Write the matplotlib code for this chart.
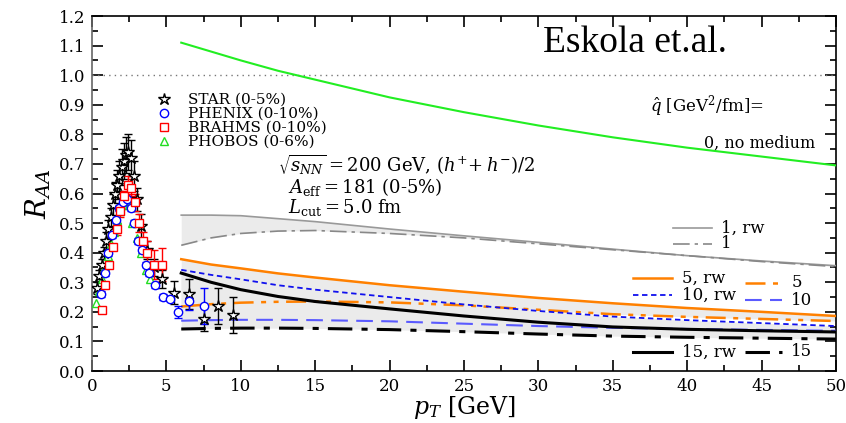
import numpy as np
import matplotlib
matplotlib.use('Agg')
import matplotlib.pyplot as plt
from matplotlib.lines import Line2D

plt.rcParams['font.family'] = ['DejaVu Serif']
plt.rcParams['mathtext.fontset'] = 'dejavuserif'

# --- data points (RHIC, Au+Au 200 GeV) ---
pt_star = [0.35, 0.5, 0.65, 0.8, 0.95, 1.1, 1.25, 1.4, 1.55, 1.7, 1.85, 2.0, 2.15, 2.3, 2.45, 2.6,
           2.8, 3.0, 3.3, 3.7, 4.2, 4.7, 5.5, 6.5, 7.5, 8.5, 9.5]
r_star = [0.28, 0.32, 0.36, 0.40, 0.44, 0.48, 0.52, 0.56, 0.60, 0.63, 0.66, 0.69, 0.71, 0.73, 0.74, 0.72,
          0.66, 0.58, 0.49, 0.41, 0.35, 0.31, 0.265, 0.26, 0.175, 0.22, 0.19]
e_star = [0.02, 0.02, 0.02, 0.02, 0.03, 0.03, 0.03, 0.04, 0.04, 0.05, 0.05, 0.06, 0.06, 0.06, 0.06, 0.06,
          0.05, 0.04, 0.04, 0.03, 0.03, 0.03, 0.04, 0.05, 0.04, 0.06, 0.06]

pt_phenix = [0.6, 0.85, 1.1, 1.35, 1.6, 1.85, 2.1, 2.35, 2.6, 2.85, 3.1, 3.35, 3.6, 3.85, 4.25, 4.75,
             5.25, 5.75, 6.5, 7.5]
r_phenix = [0.26, 0.33, 0.40, 0.46, 0.51, 0.55, 0.57, 0.58, 0.55, 0.50, 0.44, 0.41, 0.36, 0.33, 0.29, 0.25,
            0.245, 0.20, 0.235, 0.22]
e_phenix = [0.01, 0.01, 0.01, 0.01, 0.01, 0.01, 0.01, 0.01, 0.01, 0.01, 0.01, 0.01, 0.01, 0.01, 0.01, 0.01,
            0.01, 0.02, 0.03, 0.06]

pt_brahms = [0.65, 0.9, 1.15, 1.4, 1.65, 1.9, 2.15, 2.4, 2.65, 2.9, 3.15, 3.4, 3.7, 4.2, 4.7]
r_brahms = [0.205, 0.29, 0.36, 0.42, 0.48, 0.54, 0.59, 0.63, 0.62, 0.57, 0.50, 0.44, 0.40, 0.36, 0.36]
e_brahms = [0.01, 0.01, 0.01, 0.01, 0.02, 0.02, 0.02, 0.03, 0.03, 0.03, 0.03, 0.03, 0.04, 0.05, 0.055]

pt_phobos = [0.3, 0.5, 0.7, 0.9, 1.1, 1.3, 1.5, 1.7, 1.9, 2.1, 2.3, 2.5, 2.7, 3.0, 3.3, 3.6, 3.9]
r_phobos = [0.23, 0.27, 0.31, 0.35, 0.39, 0.43, 0.47, 0.51, 0.54, 0.56, 0.57, 0.56, 0.50, 0.45, 0.40, 0.34, 0.31]

# --- model curves ---
pt_curve = [6, 8, 10, 12.5, 15, 20, 25, 30, 35, 40, 45, 50]
q0 = [1.11, 1.08, 1.05, 1.015, 0.985, 0.925, 0.875, 0.83, 0.79, 0.755, 0.725, 0.695]
q1_rw = [0.527, 0.527, 0.525, 0.515, 0.505, 0.48, 0.457, 0.435, 0.412, 0.39, 0.372, 0.356]
q1 = [0.425, 0.45, 0.465, 0.473, 0.475, 0.465, 0.45, 0.43, 0.41, 0.39, 0.37, 0.353]
q5_rw = [0.378, 0.36, 0.347, 0.33, 0.316, 0.29, 0.268, 0.247, 0.229, 0.213, 0.2, 0.186]
q5 = [0.218, 0.226, 0.231, 0.234, 0.235, 0.232, 0.222, 0.207, 0.192, 0.183, 0.176, 0.169]
q10_rw = [0.342, 0.325, 0.31, 0.29, 0.275, 0.25, 0.225, 0.203, 0.184, 0.172, 0.162, 0.152]
q10 = [0.17, 0.172, 0.173, 0.173, 0.172, 0.168, 0.16, 0.152, 0.146, 0.142, 0.139, 0.136]
q15_rw = [0.331, 0.3, 0.275, 0.252, 0.235, 0.21, 0.186, 0.165, 0.149, 0.141, 0.136, 0.132]
q15 = [0.142, 0.144, 0.145, 0.145, 0.144, 0.14, 0.133, 0.125, 0.118, 0.114, 0.111, 0.108]

orange = '#ff8000'
fig = plt.figure(figsize=(8.46, 4.23), dpi=100)
ax = fig.add_axes([0.1087, 0.1229, 0.8794, 0.8392])

for a, b in [(q1_rw, q1), (q5_rw, q5), (q10_rw, q10), (q15_rw, q15)]:
    ax.fill_between(pt_curve, a, b, color='#ebebeb', lw=0, zorder=1)

ax.axhline(1.0, color='#777777', ls=(0, (1, 3)), lw=1, zorder=2)

ax.plot(pt_curve, q0, color='#22ee22', lw=1.5, zorder=3)
ax.plot(pt_curve, q1_rw, color='#999999', lw=1.2, zorder=3)
ax.plot(pt_curve, q1, color='#888888', lw=1.2, ls=(0, (10, 3, 2, 3)), zorder=3)
ax.plot(pt_curve, q5_rw, color=orange, lw=1.8, zorder=3)
ax.plot(pt_curve, q5, color=orange, lw=1.8, ls=(0, (8, 3, 2, 3, 2, 3)), zorder=3)
ax.plot(pt_curve, q10_rw, color='#1010ee', lw=1.3, ls=(0, (3, 2)), zorder=3)
ax.plot(pt_curve, q10, color='#5a5aff', lw=1.5, ls=(0, (8, 4)), zorder=3)
ax.plot(pt_curve, q15_rw, color='black', lw=2.2, zorder=3)
ax.plot(pt_curve, q15, color='black', lw=2.2, ls=(0, (8, 3, 2, 3)), zorder=3)

ekw = dict(capsize=3, elinewidth=1, capthick=1, ls='none', zorder=4)
ax.errorbar(pt_star, r_star, yerr=e_star, fmt='*', ms=9, mfc='white', mec='black', ecolor='black', **ekw)
ax.errorbar(pt_phenix, r_phenix, yerr=e_phenix, fmt='o', ms=6, mfc='white', mec='blue', ecolor='blue', **ekw)
ax.errorbar(pt_brahms, r_brahms, yerr=e_brahms, fmt='s', ms=6, mfc='white', mec='red', ecolor='red', **ekw)
ax.plot(pt_phobos, r_phobos, '^', ms=6, mfc='white', mec='#22dd22', ls='none', zorder=4)

handles = [Line2D([], [], marker='*', ms=9, mfc='white', mec='black', ls='none'),
           Line2D([], [], marker='o', ms=6, mfc='white', mec='blue', ls='none'),
           Line2D([], [], marker='s', ms=6, mfc='white', mec='red', ls='none'),
           Line2D([], [], marker='^', ms=6, mfc='white', mec='#22dd22', ls='none')]
labels = ['STAR (0-5%)', 'PHENIX (0-10%)', 'BRAHMS (0-10%)', 'PHOBOS (0-6%)']
ax.legend(handles, labels, loc='upper left', bbox_to_anchor=(0.078, 0.80), frameon=False,
          fontsize=11, handlelength=1.0, handletextpad=1.1, labelspacing=0.0, borderaxespad=0)


def key(x0, x1, y, text, **style):
    ax.plot([x0, x1], [y, y], transform=ax.transAxes, **style)
    ax.text(x1 + 0.013, y, text, transform=ax.transAxes, va='center', fontsize=12)


key(0.781, 0.833, 0.403, '1, rw', color='#999999', lw=1.2)
key(0.781, 0.833, 0.358, '1', color='#888888', lw=1.2, ls=(0, (10, 3, 2, 3)))
key(0.727, 0.780, 0.262, '5, rw', color=orange, lw=1.8)
key(0.727, 0.780, 0.214, '10, rw', color='#1010ee', lw=1.3, ls=(0, (3, 2)))
key(0.878, 0.927, 0.248, '5', color=orange, lw=1.8, ls=(0, (8, 3, 2, 3, 2, 3)))
key(0.878, 0.927, 0.200, '10', color='#5a5aff', lw=1.5, ls=(0, (8, 4)))
key(0.727, 0.780, 0.054, '15, rw', color='black', lw=2.2)
key(0.878, 0.927, 0.054, '15', color='black', lw=2.2, ls=(0, (8, 3, 2, 3)))

ax.text(0.75, 0.746, r'$\hat{q}$ [GeV$^2$/fm]=', transform=ax.transAxes, va='center', fontsize=12)
ax.text(0.972, 0.64, '0, no medium', transform=ax.transAxes, va='center', ha='right', fontsize=11.5)
ax.text(0.606, 0.925, 'Eskola et.al.', transform=ax.transAxes, va='center',
        fontsize=27, family='Liberation Serif')
ax.text(0.25, 0.58, r'$\sqrt{s_{NN}} = 200$ GeV, $(h^{+}\!+h^{-})/2$', transform=ax.transAxes,
        va='center', fontsize=13)
ax.text(0.263, 0.518, r'$A_{\rm eff} = 181$ (0-5%)', transform=ax.transAxes, va='center', fontsize=13)
ax.text(0.263, 0.462, r'$L_{\rm cut} = 5.0$ fm', transform=ax.transAxes, va='center', fontsize=13)

ax.set_xlim(0, 50)
ax.set_ylim(0, 1.2)
ax.set_xticks(np.arange(0, 51, 5))
ax.set_xticks(np.arange(0, 50.1, 2.5), minor=True)
ax.set_yticks(np.arange(0, 1.21, 0.1))
ax.set_yticks(np.arange(0, 1.21, 0.05), minor=True)
ax.set_yticklabels(['%.1f' % v for v in np.arange(0, 1.21, 0.1)])
ax.tick_params(which='both', direction='in', top=True, right=True, labelsize=12, pad=5)
ax.tick_params(which='major', length=8, width=1.2)
ax.tick_params(which='minor', length=4, width=1.2)
for s in ax.spines.values():
    s.set_linewidth(1.2)
ax.spines['left'].set_color('#666666')

ax.set_xlabel(r'$p_T$ [GeV]', fontsize=17, labelpad=-1)
ax.set_ylabel(r'$R_{AA}$', fontsize=20, labelpad=4)

fig.savefig('out.png', dpi=100)
